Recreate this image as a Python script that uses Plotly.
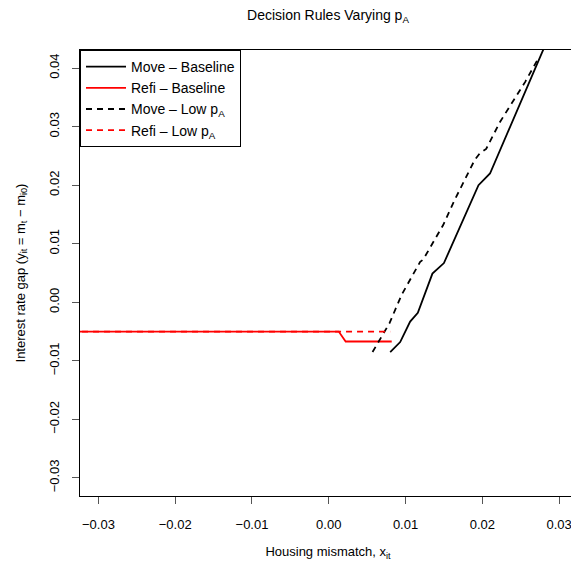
import plotly.graph_objects as go

# --- data ---
move_base_x = [0.0080, 0.0093, 0.0106, 0.0116, 0.0135, 0.0150, 0.0195, 0.0210, 0.0290]
move_base_y = [-0.0085, -0.0068, -0.0033, -0.0018, 0.0049, 0.0067, 0.0200, 0.0220, 0.0464]

refi_base_x = [-0.0350, 0.0013, 0.0022, 0.0082]
refi_base_y = [-0.0050, -0.0050, -0.0067, -0.0067]

move_low_x = [0.0057, 0.0079, 0.0095, 0.0119, 0.0123, 0.0149, 0.0164, 0.0190, 0.0197, 0.0205, 0.0223, 0.0256, 0.0273]
move_low_y = [-0.0085, -0.0036, 0.0013, 0.0069, 0.0073, 0.0132, 0.0175, 0.0243, 0.0255, 0.0262, 0.0308, 0.0377, 0.0417]

refi_low_x = [-0.0350, 0.0080]
refi_low_y = [-0.0050, -0.0050]

x_ticks = [-0.03, -0.02, -0.01, 0.00, 0.01, 0.02, 0.03]
x_labels = ["\u22120.03", "\u22120.02", "\u22120.01", "0.00", "0.01", "0.02", "0.03"]
y_ticks = [-0.03, -0.02, -0.01, 0.00, 0.01, 0.02, 0.03, 0.04]
y_labels = ["\u22120.03", "\u22120.02", "\u22120.01", "0.00", "0.01", "0.02", "0.03", "0.04"]

FONT = "Liberation Sans, Arial, Helvetica, sans-serif"
LW = 1.8
DASH = "6px,5px"

fig = go.Figure()
fig.add_trace(go.Scatter(x=move_base_x, y=move_base_y, mode="lines",
                         line=dict(color="black", width=LW),
                         name="Move \u2013 Baseline"))
fig.add_trace(go.Scatter(x=refi_base_x, y=refi_base_y, mode="lines",
                         line=dict(color="#FF0000", width=LW),
                         name="Refi \u2013 Baseline"))
fig.add_trace(go.Scatter(x=move_low_x, y=move_low_y, mode="lines",
                         line=dict(color="black", width=LW, dash=DASH),
                         name="Move \u2013 Low p<sub>A</sub>"))
fig.add_trace(go.Scatter(x=refi_low_x, y=refi_low_y, mode="lines",
                         line=dict(color="#FF0000", width=LW, dash=DASH),
                         name="Refi \u2013 Low p<sub>A</sub>"))

axis_common = dict(
    showgrid=False, zeroline=False, automargin=False,
    showline=True, linecolor="black", linewidth=1, mirror=True,
    ticks="outside", ticklen=7, tickcolor="#555555", tickwidth=1,
    tickfont=dict(family=FONT, size=13, color="black"),
)

# the page body adds an 8px offset, so the figure is 8px smaller
fig.update_layout(
    width=571, height=560,
    margin=dict(l=72, r=3, t=42, b=72),
    paper_bgcolor="white", plot_bgcolor="white",
    font=dict(family=FONT, size=13, color="black"),
    title=dict(text="Decision Rules Varying p<sub>A</sub>",
               x=0.5, xref="paper", xanchor="center",
               y=1 - 7 / 560, yref="container", yanchor="middle",
               font=dict(family=FONT, size=14, color="black")),
    xaxis=dict(range=[-0.0324, 0.0322], tickvals=x_ticks, ticktext=x_labels,
               ticklabelstandoff=9,
               title=dict(text="Housing mismatch, x<sub>it</sub>", standoff=16,
                          font=dict(family=FONT, size=13)),
               **axis_common),
    yaxis=dict(range=[-0.0331, 0.0431], tickvals=y_ticks, ticktext=y_labels,
               tickangle=-90, ticklabelstandoff=8,
               title=dict(text="Interest rate gap (y<sub>it</sub> = m<sub>t</sub> \u2212 m<sub>i0</sub>)",
                          standoff=18, font=dict(family=FONT, size=13)),
               **axis_common),
    showlegend=True,
    legend=dict(x=0, y=1, xanchor="left", yanchor="top",
                bgcolor="white", bordercolor="black", borderwidth=1,
                font=dict(family=FONT, size=14, color="black"),
                tracegroupgap=0, itemwidth=40),
)

fig.write_html("out.html")
